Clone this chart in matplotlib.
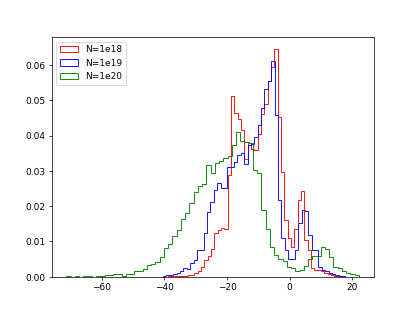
import numpy as np
import matplotlib.pyplot as plt

# histogram data (density per bin)
labels = ['N=1e18', 'N=1e19', 'N=1e20']
colors = ['red', 'blue', 'green']

# N=1e18
red_start, red_width = -38.9, 1.064
red_vals = [0.0002, 0.0003, 0.0002, 0.0003, 0.0003, 0.0003, 0.0004, 0.0005,
            0.0010, 0.0016, 0.0029, 0.0048, 0.0060, 0.0078, 0.0124, 0.0133,
            0.0138, 0.0136, 0.0289, 0.0513, 0.0463, 0.0448, 0.0415, 0.0335,
            0.0378, 0.0363, 0.0359, 0.0406, 0.0461, 0.0491, 0.0554, 0.0595,
            0.0647, 0.0453, 0.0297, 0.0162, 0.0109, 0.0083, 0.0134, 0.0217,
            0.0242, 0.0105, 0.0077, 0.0025, 0.0020, 0.0020, 0.0015, 0.0012,
            0.0008, 0.0005, 0.0003, 0.0002]

# N=1e19
blue_start, blue_width = -40.37, 1.077
blue_vals = [0.0003, 0.0005, 0.0005, 0.0008, 0.0010, 0.0015, 0.0025, 0.0022,
             0.0039, 0.0048, 0.0075, 0.0076, 0.0124, 0.0183, 0.0212, 0.0246,
             0.0265, 0.0251, 0.0251, 0.0311, 0.0310, 0.0325, 0.0345, 0.0350,
             0.0321, 0.0373, 0.0375, 0.0397, 0.0431, 0.0477, 0.0532, 0.0554,
             0.0611, 0.0458, 0.0217, 0.0109, 0.0076, 0.0049, 0.0049, 0.0075,
             0.0152, 0.0190, 0.0185, 0.0119, 0.0076, 0.0076, 0.0029, 0.0020,
             0.0017, 0.0012, 0.0008, 0.0005, 0.0003, 0.0002]

# N=1e20
green_start, green_width = -71.2, 1.352
green_vals = [0.0002, 0.0, 0.0002, 0.0, 0.0002, 0.0001, 0.0, 0.0003,
              0.0003, 0.0005, 0.0005, 0.0008, 0.0008, 0.0003, 0.0008, 0.0008,
              0.0015, 0.0015, 0.0023, 0.0034, 0.0037, 0.0041, 0.0056, 0.0081,
              0.0094, 0.0116, 0.0132, 0.0163, 0.0182, 0.0209, 0.0239, 0.0258,
              0.0263, 0.0317, 0.0294, 0.0322, 0.0327, 0.0336, 0.0343, 0.0374,
              0.0409, 0.0385, 0.0383, 0.0380, 0.0302, 0.0295, 0.0189, 0.0134,
              0.0083, 0.0061, 0.0049, 0.0044, 0.0028, 0.0024, 0.0015, 0.0018,
              0.0030, 0.0051, 0.0058, 0.0058, 0.0085, 0.0078, 0.0057, 0.0028,
              0.0024, 0.0017, 0.0010, 0.0008, 0.0005]

series = [(red_start, red_width, red_vals),
          (blue_start, blue_width, blue_vals),
          (green_start, green_width, green_vals)]

fig, ax = plt.subplots(figsize=(6.4, 4.8), dpi=415 / 6.4)

for (start, width, vals), lab, col in zip(series, labels, colors):
    vals = np.array(vals)
    edges = start + width * np.arange(len(vals) + 1)
    centers = 0.5 * (edges[:-1] + edges[1:])
    ax.hist(centers, bins=edges, weights=vals, histtype='step',
            color=col, label=lab)

ax.legend(loc='upper left')
fig.savefig('out.png', dpi=415 / 6.4)
